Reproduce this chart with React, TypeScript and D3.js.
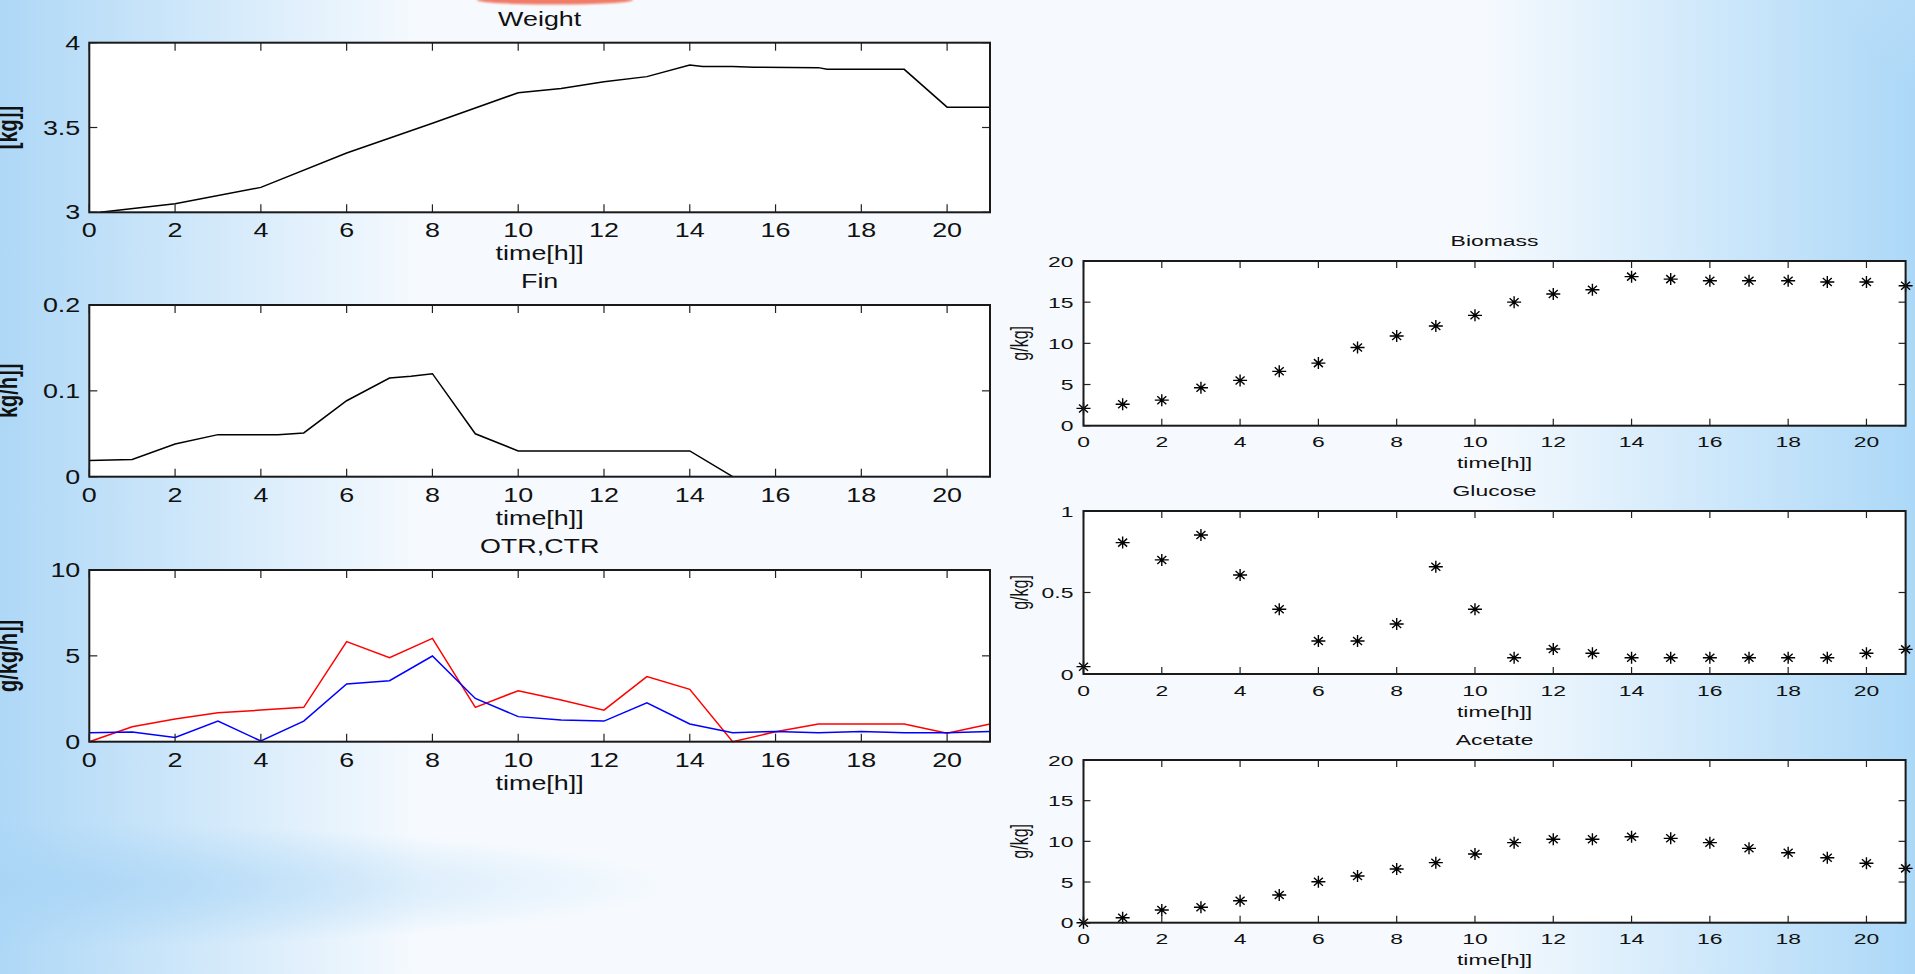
import React from "react";
import * as d3 from "d3";

// ---- data ----
const hours = d3.range(0, 22); // 0..21 h sample times
const xTicks = [0, 2, 4, 6, 8, 10, 12, 14, 16, 18, 20];

const weightTime = [0.25, 2, 4, 6, 8, 10, 11, 12, 13, 14, 14.3, 15, 15.5, 17, 17.2, 19, 20, 21];
const weightKg = [3.0, 3.05, 3.147, 3.35, 3.525, 3.705, 3.73, 3.77, 3.8, 3.868, 3.86, 3.86, 3.855, 3.853, 3.843, 3.843, 3.62, 3.62];

const finTime = [0, 1, 2, 3, 4.4, 5, 6, 7, 7.5, 8, 9, 10, 14, 15];
const finRate = [0.019, 0.02, 0.038, 0.049, 0.049, 0.051, 0.0885, 0.115, 0.117, 0.12, 0.05, 0.03, 0.03, 0.0];

const otr = [0, 0.87, 1.32, 1.69, 1.84, 2.0, 5.83, 4.89, 6.02, 2.0, 2.97, 2.43, 1.84, 3.79, 3.05, 0, 0.58, 1.03, 1.03, 1.03, 0.49, 1.03];
const ctr = [0.52, 0.56, 0.25, 1.2, 0.04, 1.2, 3.36, 3.55, 4.99, 2.52, 1.46, 1.26, 1.2, 2.27, 1.03, 0.52, 0.6, 0.52, 0.6, 0.52, 0.52, 0.6];

const biomass = [2.1, 2.6, 3.1, 4.6, 5.5, 6.6, 7.6, 9.5, 10.9, 12.1, 13.4, 15.0, 16.0, 16.5, 18.1, 17.8, 17.6, 17.6, 17.6, 17.45, 17.45, 17.0];
const glucose = [0.045, 0.806, 0.7, 0.853, 0.607, 0.397, 0.202, 0.202, 0.307, 0.658, 0.397, 0.1, 0.153, 0.127, 0.1, 0.1, 0.1, 0.1, 0.1, 0.1, 0.127, 0.151];
const acetate = [0, 0.6, 1.56, 1.89, 2.7, 3.4, 5.04, 5.74, 6.6, 7.38, 8.44, 9.84, 10.25, 10.25, 10.57, 10.37, 9.84, 9.14, 8.6, 7.99, 7.3, 6.68];

const weightTicks = [3, 3.5, 4];
const finTicks = [0, 0.1, 0.2];
const otrTicks = [0, 5, 10];
const concTicks = [0, 5, 10, 15, 20];
const glucoseTicks = [0, 0.5, 1];

const FONT = "'Liberation Sans', Arial, Helvetica, sans-serif";

type Style = { size: number; sx: number; tick: number; titleGap: number; tickGap: number; labelGap: number; yTickGap: number; yLabelX: number; yLabelSize: number; yLabelWeight: number };

const leftStyle: Style = { size: 19.5, sx: 1.38, tick: 8, titleGap: 24, tickGap: 25, labelGap: 48, yTickGap: 9, yLabelX: 17, yLabelSize: 20, yLabelWeight: 700 };
const rightStyle: Style = { size: 15.5, sx: 1.48, tick: 7, titleGap: 21, tickGap: 21.5, labelGap: 42.5, yTickGap: 10, yLabelX: 1028, yLabelSize: 16, yLabelWeight: 400 };

function T({ x, y, sx, size, anchor = "middle", children, rotate = false, weight = 400 }: any) {
  const tr = `translate(${x},${y}) scale(${sx},1)${rotate ? " rotate(-90)" : ""}`;
  return (
    <text transform={tr} fontSize={size} fontFamily={FONT} fontWeight={weight} textAnchor={anchor} fill="#111">
      {children}
    </text>
  );
}

function Panel({ x0, x1, top, bottom, yDomain, yTicks, title, yLabel, st, children, fmt }: any) {
  const x = d3.scaleLinear().domain([0, 21]).range([x0, x1]);
  const y = d3.scaleLinear().domain(yDomain).range([bottom, top]);
  const f = fmt || ((v: number) => String(v));
  return (
    <g>
      <rect x={x0} y={top} width={x1 - x0} height={bottom - top} fill="#fff" />
      {children(x, y)}
      {/* ticks on all four sides, pointing inward */}
      {xTicks.map((t) => (
        <g key={"xt" + t} stroke="#222" strokeWidth={1.2}>
          <line x1={x(t)} x2={x(t)} y1={bottom} y2={bottom - st.tick} />
          <line x1={x(t)} x2={x(t)} y1={top} y2={top + st.tick} />
        </g>
      ))}
      {yTicks.map((t: number) => (
        <g key={"yt" + t} stroke="#222" strokeWidth={1.2}>
          <line x1={x0} x2={x0 + st.tick} y1={y(t)} y2={y(t)} />
          <line x1={x1} x2={x1 - st.tick} y1={y(t)} y2={y(t)} />
        </g>
      ))}
      <rect x={x0} y={top} width={x1 - x0} height={bottom - top} fill="none" stroke="#1a1a1a" strokeWidth={2} />
      {xTicks.map((t) => (
        <T key={"xl" + t} x={x(t)} y={bottom + st.tickGap} sx={st.sx} size={st.size}>
          {String(t)}
        </T>
      ))}
      {yTicks.map((t: number) => (
        <T key={"yl" + t} x={x0 - st.yTickGap} y={y(t) + st.size * 0.36} sx={st.sx} size={st.size} anchor="end">
          {f(t)}
        </T>
      ))}
      <T x={(x0 + x1) / 2} y={top - st.titleGap + st.size * 0.36} sx={st.sx} size={st.size}>
        {title}
      </T>
      <T x={(x0 + x1) / 2} y={bottom + st.labelGap} sx={st.sx} size={st.size}>
        time[h]]
      </T>
      <T x={st.yLabelX} y={(top + bottom) / 2} sx={st.sx} size={st.yLabelSize} rotate weight={st.yLabelWeight}>
        {yLabel}
      </T>
    </g>
  );
}

const STAR = "M-7,0H7M0,-6V6M-4.5,-4L4.5,4M-4.5,4L4.5,-4";

function Stars({ x, y, values }: any) {
  return (
    <g stroke="#000" strokeWidth={1.4} fill="none">
      {values.map((v: number, i: number) => (
        <path key={i} d={STAR} transform={`translate(${x(hours[i])},${y(v)})`} />
      ))}
    </g>
  );
}

function Line({ x, y, xs, ys, color = "#000" }: any) {
  const gen = d3
    .line<number>()
    .x((_, i) => x(xs[i]))
    .y((d) => y(d));
  return <path d={gen(ys) || ""} fill="none" stroke={color} strokeWidth={1.5} />;
}

export default function App() {
  const LX0 = 89.3, LX1 = 990;
  const RX0 = 1083.5, RX1 = 1905.6;
  return (
    <svg width={1915} height={974} style={{ position: "absolute", left: 0, top: 0, display: "block" }}>
      <defs>
        <linearGradient id="leftBlue" x1="0" x2="1" y1="0" y2="0">
          <stop offset="0" stopColor="#a6d4f6" stopOpacity={1} />
          <stop offset="1" stopColor="#a6d4f6" stopOpacity={0} />
        </linearGradient>
        <linearGradient id="rightEdge" x1="0" x2="1" y1="0" y2="0">
          <stop offset="0" stopColor="#a8d6f7" stopOpacity={0} />
          <stop offset="1" stopColor="#a8d6f7" stopOpacity={0.95} />
        </linearGradient>
        <radialGradient id="rightBlue" cx="1" cy="0" r="0.6">
          <stop offset="0" stopColor="#a3d3f7" stopOpacity={1} />
          <stop offset="0.55" stopColor="#bfe0f9" stopOpacity={0.7} />
          <stop offset="1" stopColor="#e8f4fd" stopOpacity={0} />
        </radialGradient>
        <radialGradient id="bottomBand" cx="0.15" cy="0.5" r="0.5">
          <stop offset="0" stopColor="#a9d5f6" stopOpacity={0.9} />
          <stop offset="1" stopColor="#a9d5f6" stopOpacity={0} />
        </radialGradient>
        <filter id="soft" x="-20%" y="-200%" width="140%" height="500%">
          <feGaussianBlur stdDeviation="1.2" />
        </filter>
      </defs>
      <rect x={0} y={0} width={1915} height={974} fill="#f6fafe" />
      <rect x={0} y={0} width={420} height={974} fill="url(#leftBlue)" opacity={0.9} />
      <rect x={1480} y={0} width={435} height={974} fill="url(#rightEdge)" />
      <rect x={1250} y={-400} width={1100} height={1100} fill="url(#rightBlue)" />
      <rect x={-300} y={820} width={1500} height={130} fill="url(#bottomBand)" />
      <ellipse cx={555} cy={0} rx={78} ry={4.5} fill="#f07c68" filter="url(#soft)" />

      {/* left column */}
      <Panel x0={LX0} x1={LX1} top={42.7} bottom={212.3} yDomain={[3, 4]} yTicks={weightTicks} title="Weight" yLabel="[kg]]" st={leftStyle}>
        {(x: any, y: any) => <Line x={x} y={y} xs={weightTime} ys={weightKg} />}
      </Panel>
      <Panel x0={LX0} x1={LX1} top={305} bottom={476.7} yDomain={[0, 0.2]} yTicks={finTicks} title="Fin" yLabel="kg/h]]" st={leftStyle}>
        {(x: any, y: any) => <Line x={x} y={y} xs={finTime} ys={finRate} />}
      </Panel>
      <Panel x0={LX0} x1={LX1} top={570} bottom={741.7} yDomain={[0, 10]} yTicks={otrTicks} title="OTR,CTR" yLabel="g/kg/h]]" st={leftStyle}>
        {(x: any, y: any) => (
          <g>
            <Line x={x} y={y} xs={hours} ys={otr} color="#ff0000" />
            <Line x={x} y={y} xs={hours} ys={ctr} color="#0000ff" />
          </g>
        )}
      </Panel>

      {/* right column */}
      <Panel x0={RX0} x1={RX1} top={261} bottom={425.7} yDomain={[0, 20]} yTicks={concTicks} title="Biomass" yLabel="g/kg]" st={rightStyle}>
        {(x: any, y: any) => <Stars x={x} y={y} values={biomass} />}
      </Panel>
      <Panel x0={RX0} x1={RX1} top={511} bottom={674} yDomain={[0, 1]} yTicks={glucoseTicks} title="Glucose" yLabel="g/kg]" st={rightStyle}>
        {(x: any, y: any) => <Stars x={x} y={y} values={glucose} />}
      </Panel>
      <Panel x0={RX0} x1={RX1} top={760} bottom={922.7} yDomain={[0, 20]} yTicks={concTicks} title="Acetate" yLabel="g/kg]" st={rightStyle}>
        {(x: any, y: any) => <Stars x={x} y={y} values={acetate} />}
      </Panel>
    </svg>
  );
}
